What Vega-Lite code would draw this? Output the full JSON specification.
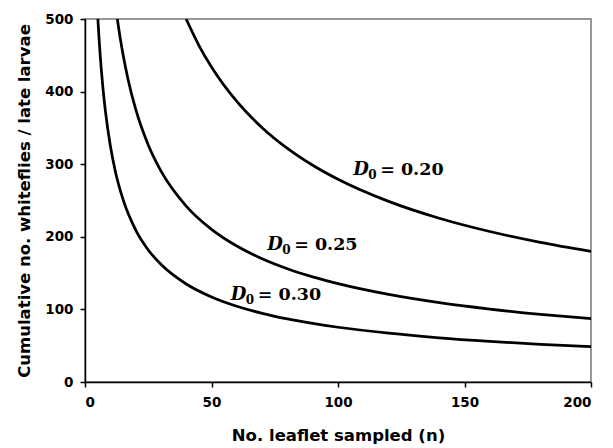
{
  "$schema": "https://vega.github.io/schema/vega-lite/v6.json",
  "autosize": {"type": "none"},
  "padding": {"left": 85, "top": 19, "right": 22, "bottom": 66},
  "width": 506,
  "height": 363,
  "config": {
    "view": {"stroke": "#777777", "strokeWidth": 1.5},
    "axis": {"grid": false, "domainColor": "#000000", "tickColor": "#000000", "domainWidth": 1.5, "tickWidth": 1.5, "labelFont": "DejaVu Sans", "labelFontWeight": "bold", "labelFontSize": 13.5, "labelColor": "#000000", "titleFont": "DejaVu Sans", "titleFontWeight": "bold", "titleFontSize": 16.5, "titleColor": "#000000", "tickSize": 5}
  },
  "datasets": {
    "curves": [
      {"n": 5.09, "T": 500, "D0": "0.30"},
      {"n": 5.5, "T": 475.9, "D0": "0.30"},
      {"n": 6, "T": 450.3, "D0": "0.30"},
      {"n": 7, "T": 408.4, "D0": "0.30"},
      {"n": 8, "T": 375.1, "D0": "0.30"},
      {"n": 10, "T": 325.7, "D0": "0.30"},
      {"n": 12, "T": 290.0, "D0": "0.30"},
      {"n": 15, "T": 251.8, "D0": "0.30"},
      {"n": 20, "T": 209.6, "D0": "0.30"},
      {"n": 25, "T": 181.9, "D0": "0.30"},
      {"n": 30, "T": 162.1, "D0": "0.30"},
      {"n": 40, "T": 135.0, "D0": "0.30"},
      {"n": 50, "T": 117.2, "D0": "0.30"},
      {"n": 60, "T": 104.4, "D0": "0.30"},
      {"n": 70, "T": 94.6, "D0": "0.30"},
      {"n": 80, "T": 86.9, "D0": "0.30"},
      {"n": 90, "T": 80.7, "D0": "0.30"},
      {"n": 100, "T": 75.4, "D0": "0.30"},
      {"n": 120, "T": 67.2, "D0": "0.30"},
      {"n": 140, "T": 60.9, "D0": "0.30"},
      {"n": 160, "T": 56.0, "D0": "0.30"},
      {"n": 180, "T": 51.9, "D0": "0.30"},
      {"n": 200, "T": 48.6, "D0": "0.30"},
      {"n": 12.78, "T": 500, "D0": "0.25"},
      {"n": 14, "T": 471.9, "D0": "0.25"},
      {"n": 15, "T": 451.8, "D0": "0.25"},
      {"n": 17, "T": 417.1, "D0": "0.25"},
      {"n": 20, "T": 376.1, "D0": "0.25"},
      {"n": 25, "T": 326.5, "D0": "0.25"},
      {"n": 30, "T": 290.8, "D0": "0.25"},
      {"n": 40, "T": 242.3, "D0": "0.25"},
      {"n": 50, "T": 210.3, "D0": "0.25"},
      {"n": 60, "T": 187.3, "D0": "0.25"},
      {"n": 70, "T": 169.8, "D0": "0.25"},
      {"n": 80, "T": 156.0, "D0": "0.25"},
      {"n": 90, "T": 144.8, "D0": "0.25"},
      {"n": 100, "T": 135.4, "D0": "0.25"},
      {"n": 120, "T": 120.6, "D0": "0.25"},
      {"n": 140, "T": 109.3, "D0": "0.25"},
      {"n": 160, "T": 100.5, "D0": "0.25"},
      {"n": 180, "T": 93.2, "D0": "0.25"},
      {"n": 200, "T": 87.2, "D0": "0.25"},
      {"n": 39.97, "T": 500, "D0": "0.20"},
      {"n": 45, "T": 463.8, "D0": "0.20"},
      {"n": 50, "T": 433.8, "D0": "0.20"},
      {"n": 60, "T": 386.4, "D0": "0.20"},
      {"n": 70, "T": 350.3, "D0": "0.20"},
      {"n": 80, "T": 321.8, "D0": "0.20"},
      {"n": 90, "T": 298.6, "D0": "0.20"},
      {"n": 100, "T": 279.3, "D0": "0.20"},
      {"n": 120, "T": 248.8, "D0": "0.20"},
      {"n": 140, "T": 225.6, "D0": "0.20"},
      {"n": 160, "T": 207.3, "D0": "0.20"},
      {"n": 180, "T": 192.3, "D0": "0.20"},
      {"n": 200, "T": 179.9, "D0": "0.20"}
    ],
    "labels": [
      {"n": 106.0, "T": 285.5, "sym": "D", "sub": "0", "rest": "= 0.20"},
      {"n": 72.0, "T": 182.2, "sym": "D", "sub": "0", "rest": "= 0.25"},
      {"n": 57.6, "T": 112.4, "sym": "D", "sub": "0", "rest": "= 0.30"}
    ]
  },
  "layer": [
    {
      "data": {"name": "curves"},
      "mark": {"type": "line", "color": "#000000", "strokeWidth": 2.75, "interpolate": "monotone", "clip": true},
      "encoding": {
        "x": {"field": "n", "type": "quantitative", "scale": {"domain": [0, 200], "nice": false}, "axis": {"values": [0, 50, 100, 150, 200], "title": "No. leaflet sampled (n)", "labelPadding": 8, "titlePadding": 19}},
        "y": {"field": "T", "type": "quantitative", "scale": {"domain": [0, 500], "nice": false}, "axis": {"values": [0, 100, 200, 300, 400, 500], "title": "Cumulative no. whiteflies / late larvae", "labelPadding": 7, "titlePadding": 12}},
        "detail": {"field": "D0"}
      }
    },
    {
      "data": {"name": "labels"},
      "mark": {"type": "text", "font": "DejaVu Serif", "fontWeight": "bold", "fontStyle": "italic", "fontSize": 18, "align": "left", "baseline": "alphabetic", "color": "#000000"},
      "encoding": {
        "x": {"field": "n", "type": "quantitative"},
        "y": {"field": "T", "type": "quantitative"},
        "text": {"field": "sym"}
      }
    },
    {
      "data": {"name": "labels"},
      "mark": {"type": "text", "font": "DejaVu Serif", "fontWeight": "bold", "fontSize": 12, "align": "left", "baseline": "alphabetic", "dx": 15, "dy": 4, "color": "#000000"},
      "encoding": {
        "x": {"field": "n", "type": "quantitative"},
        "y": {"field": "T", "type": "quantitative"},
        "text": {"field": "sub"}
      }
    },
    {
      "data": {"name": "labels"},
      "mark": {"type": "text", "font": "DejaVu Serif", "fontWeight": "bold", "fontSize": 17.5, "align": "left", "baseline": "alphabetic", "dx": 27, "color": "#000000"},
      "encoding": {
        "x": {"field": "n", "type": "quantitative"},
        "y": {"field": "T", "type": "quantitative"},
        "text": {"field": "rest"}
      }
    }
  ]
}
